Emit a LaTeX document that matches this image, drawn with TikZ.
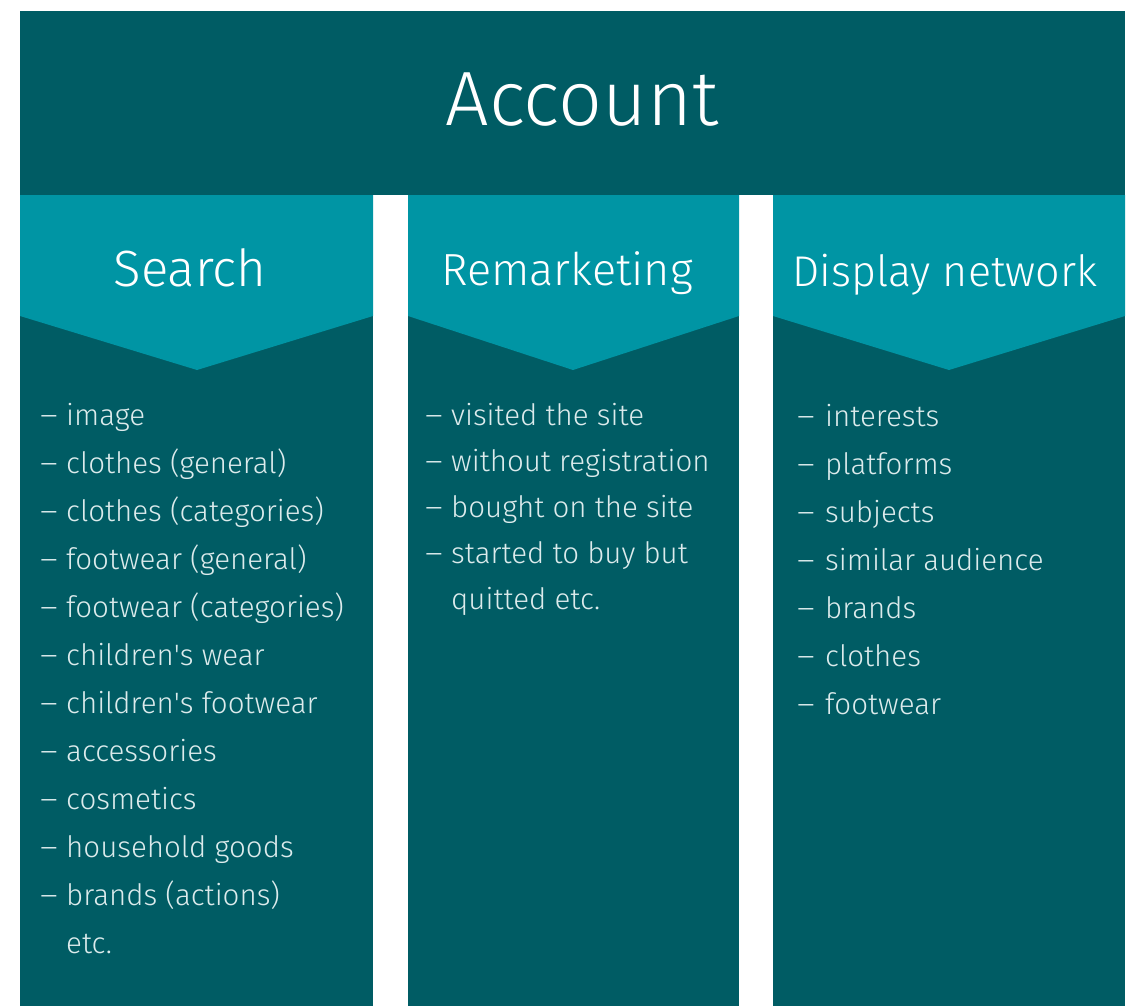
\documentclass[tikz,border=0pt]{standalone}
\usepackage{fontspec}
\setmainfont{Fira Sans Light}
\definecolor{deepteal}{HTML}{005C64}
\definecolor{brightteal}{HTML}{0095A4}
\definecolor{itemgray}{HTML}{DCEBEC}
\newcommand{\itemdash}[1][26pt]{\makebox[#1][l]{\scalebox{1.15}[1]{--}}}

\begin{document}
\begin{tikzpicture}[x=1pt,y=-1pt]
  % Define styles for panels and texts
  \tikzset{
    dark panel/.style={fill=deepteal},
    head panel/.style={fill=brightteal},
    title text/.style={text=white, font=\fontsize{77}{80}\selectfont, inner sep=0pt, anchor=base},
    head text/.style={text=white, font=\fontsize{#1}{56}\selectfont, inner sep=0pt, anchor=base},
    head text/.default=45,
    item text/.style={text=itemgray, font=\fontsize{29.5}{32}\selectfont, inner sep=0pt, anchor=base west}
  }
  \useasboundingbox (0,0) rectangle (1132,1006);

  % Top banner
  \fill[dark panel] (20,11) rectangle (1125,195);
  \node[title text] (account) at (582,126) {Account};

  % Columns: dark body with a chevron head
  \foreach \l/\r/\t in {20/373/197, 408/739/573, 773/1125/949} {
    \fill[dark panel] (\l,195) rectangle (\r,1006);
    \fill[head panel] (\l,195) -- (\r,195) -- (\r,316) -- (\t,370) -- (\l,316) -- cycle;
  }

  % Column titles
  \node[head text=51] (search) at (190,286) {Search};
  \node[head text] (remarketing) at (567,285) {Remarketing};
  \node[head text=43] (display) at (945,286) {Display network};

  % Search
  \foreach \txt [count=\i from 0] in {image, clothes (general), clothes (categories),
      footwear (general), footwear (categories), children\textquotesingle s wear,
      children\textquotesingle s footwear, accessories, cosmetics, household goods,
      brands (actions)}
    \node[item text] (search-\i) at (40,425+48*\i) {\itemdash\txt};
  \node[item text] (search-etc) at (66,953) {etc.};

  % Remarketing
  \foreach \txt [count=\i from 0] in {visited the site, without registration,
      bought on the site, started to buy but}
    \node[item text] (remarketing-\i) at (425,425+46*\i) {\itemdash\txt};
  \node[item text] (remarketing-more) at (451,609) {quitted etc.};

  % Display network
  \foreach \txt [count=\i from 0] in {interests, platforms, subjects,
      similar audience, brands, clothes, footwear}
    \node[item text] (display-\i) at (797,426+48*\i) {\itemdash[28pt]\txt};
\end{tikzpicture}
\end{document}
